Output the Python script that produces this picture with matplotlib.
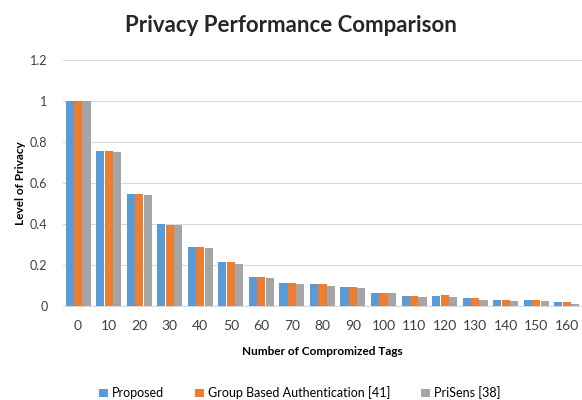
import matplotlib
matplotlib.use("Agg")
import matplotlib.pyplot as plt
import numpy as np

plt.rcParams['font.family'] = ['Lato', 'DejaVu Sans']

categories = ['0', '10', '20', '30', '40', '50', '60', '70', '80', '90',
              '100', '110', '120', '130', '140', '150', '160']
proposed = [1.0, 0.756, 0.548, 0.401, 0.289, 0.213, 0.143, 0.112, 0.106, 0.094,
            0.062, 0.049, 0.049, 0.037, 0.031, 0.031, 0.018]
group_auth = [1.0, 0.756, 0.548, 0.395, 0.289, 0.213, 0.143, 0.112, 0.106, 0.094,
              0.062, 0.049, 0.052, 0.037, 0.031, 0.031, 0.018]
prisens = [1.0, 0.75, 0.54, 0.395, 0.281, 0.205, 0.135, 0.106, 0.099, 0.086,
           0.062, 0.042, 0.042, 0.029, 0.024, 0.024, 0.010]
series_names = ['Proposed', 'Group Based Authentication [41]', 'PriSens [38]']
yticks = [0, 0.2, 0.4, 0.6, 0.8, 1, 1.2]
ytick_labels = ['0', '0.2', '0.4', '0.6', '0.8', '1', '1.2']

colors = ['#5B9BD5', '#ED7D31', '#A5A5A5']

fig = plt.figure(figsize=(5.82, 4.0), dpi=100)
ax = fig.add_axes([0.108, 0.235, 0.892, 0.615])

x = np.arange(len(categories))
w = 0.275
for i, (vals, name) in enumerate(zip([proposed, group_auth, prisens], series_names)):
    ax.bar(x + (i - 1) * w, vals, width=w * 0.97, color=colors[i], label=name, zorder=3)

ax.set_xlim(-0.5, len(categories) - 0.5)
ax.set_ylim(0, 1.2)
ax.set_yticks(yticks)
ax.set_yticklabels(ytick_labels, fontsize=9, color='#404040')
ax.set_xticks(x)
ax.set_xticklabels(categories, fontsize=10, color='#404040')
ax.tick_params(length=0)
ax.tick_params(axis='x', pad=10)
ax.tick_params(axis='y', pad=11)
ax.grid(axis='y', color='#D9D9D9', linewidth=0.8, zorder=0)
for s in ['top', 'right', 'left']:
    ax.spines[s].set_visible(False)
ax.spines['bottom'].set_color('#D9D9D9')

ax.set_xlabel('Number of Compromized Tags', fontsize=8.5, fontweight='bold', labelpad=10)
ax.set_ylabel('Level of Privacy', fontsize=8.5, fontweight='bold', labelpad=3)

fig.text(0.5, 0.937, 'Privacy Performance Comparison', ha='center', va='center',
         fontsize=16, fontweight='bold', color='#262626')

fig.legend(loc='center', bbox_to_anchor=(0.515, 0.018), ncol=3, frameon=False,
           fontsize=9, handlelength=0.7, handleheight=0.7, handletextpad=0.3,
           columnspacing=2.5)

fig.savefig('out.png', dpi=100)
